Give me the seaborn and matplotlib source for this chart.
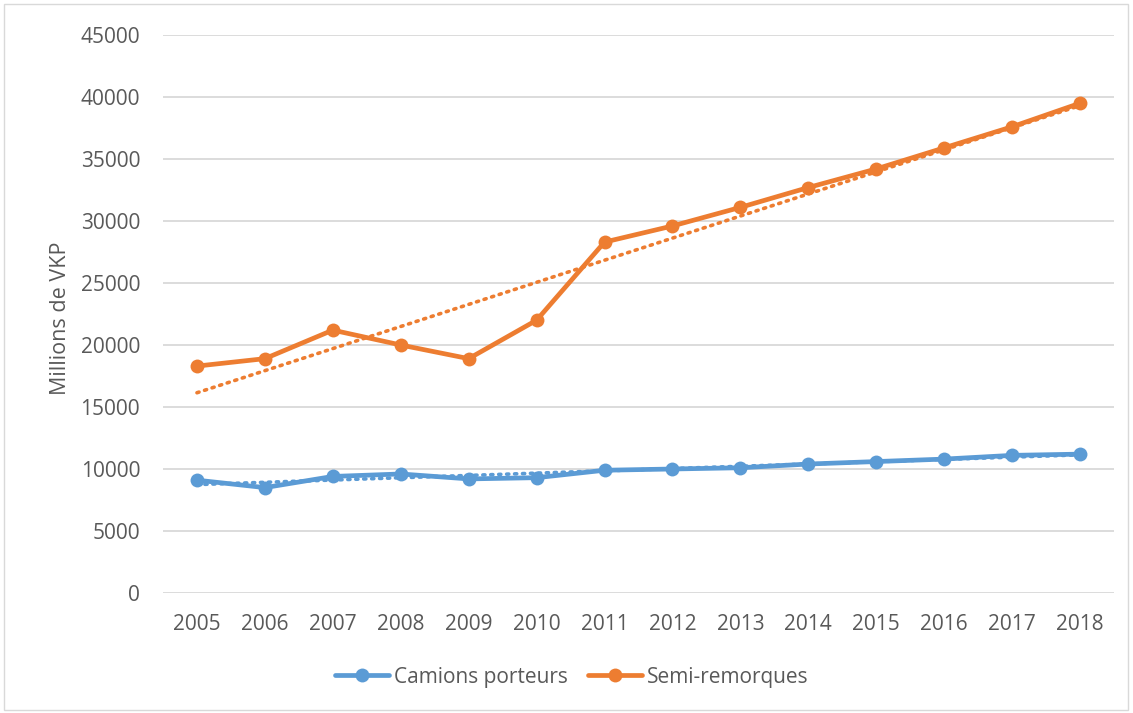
import numpy as np
import pandas as pd
import matplotlib
matplotlib.use("Agg")
import matplotlib.pyplot as plt
from matplotlib.lines import Line2D
from matplotlib.patches import Rectangle
import seaborn as sns

years = [2005, 2006, 2007, 2008, 2009, 2010, 2011, 2012, 2013, 2014, 2015, 2016, 2017, 2018]
camions_porteurs = [9100, 8500, 9400, 9600, 9200, 9300, 9900, 10000, 10100, 10400, 10600, 10800, 11100, 11200]
semi_remorques = [18300, 18900, 21200, 20000, 18900, 22000, 28300, 29600, 31100, 32700, 34200, 35900, 37600, 39500]
series_names = ["Camions porteurs", "Semi-remorques"]
y_ticks = [0, 5000, 10000, 15000, 20000, 25000, 30000, 35000, 40000, 45000]

BLUE = "#5B9BD5"
ORANGE = "#ED7D31"
TEXT = "#595959"
GRID = "#D9D9D9"

sns.set_theme(style="white")
plt.rcParams["font.family"] = ["Open Sans", "DejaVu Sans"]

pos = np.arange(len(years))
df = pd.DataFrame({
    "pos": np.concatenate([pos, pos]),
    "value": camions_porteurs + semi_remorques,
    "serie": [series_names[0]] * len(years) + [series_names[1]] * len(years),
})

W, H = 1133, 713
fig = plt.figure(figsize=(W / 100, H / 100), dpi=100)
ax = fig.add_axes([163 / W, 1 - 593 / H, (1114 - 163) / W, (593 - 35) / H])

# linear trendlines (dotted), drawn beneath the data lines
for vals, col in [(camions_porteurs, BLUE), (semi_remorques, ORANGE)]:
    coef = np.polyfit(pos, vals, 1)
    trend = np.polyval(coef, pos)
    ax.plot(pos, trend, linestyle=(0, (0.6, 1.6)), color=col, lw=2.6,
            dash_capstyle="round", zorder=2)

sns.lineplot(data=df, x="pos", y="value", hue="serie", palette=[BLUE, ORANGE],
             marker="o", markersize=10, markeredgewidth=0, linewidth=3.4,
             ax=ax, legend=False, zorder=3)

ax.set_xlim(-0.5, len(years) - 0.5)
ax.set_ylim(0, 45000)
ax.set_yticks(y_ticks)
ax.set_yticklabels([str(v) for v in y_ticks])
ax.set_xticks(pos)
ax.set_xticklabels([str(y) for y in years])
ax.tick_params(axis="both", length=0, labelsize=15, colors=TEXT)
ax.tick_params(axis="y", pad=16.5)
ax.tick_params(axis="x", pad=15)
ax.grid(axis="y", color=GRID, linewidth=1.3)
ax.set_axisbelow(True)
for s in ax.spines.values():
    s.set_visible(False)
ax.set_xlabel("")
ax.set_ylabel("")
fig.text(61 / W, 1 - 318 / H, "Millions de VKP", rotation=90, fontsize=15.5,
         color=TEXT, ha="center", va="center")

# one legend entry per series, placed side by side below the plot
for name, col, x_left in [(series_names[0], BLUE, 316), (series_names[1], ORANGE, 569)]:
    h = Line2D([0], [0], color=col, lw=3.4, marker="o", markersize=10,
               markeredgewidth=0)
    fig.legend([h], [name], loc="center left",
               bbox_to_anchor=(x_left / W, 1 - 677 / H),
               frameon=False, fontsize=15, labelcolor=TEXT,
               handlelength=2.6, handletextpad=0.25)

fig.patches.append(Rectangle((4 / W, 3 / H), 1 - 9 / W, 1 - 7 / H,
                             transform=fig.transFigure, fill=False,
                             edgecolor="#D9D9D9", linewidth=1))

fig.savefig("out.png", dpi=100)
